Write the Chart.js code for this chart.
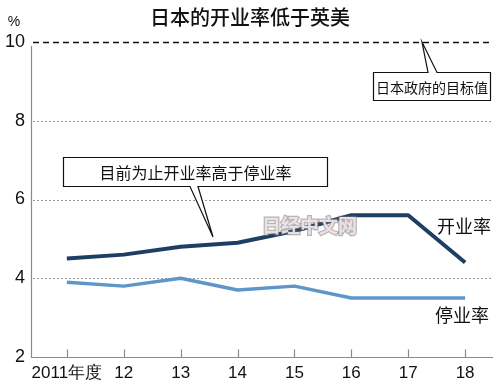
<!DOCTYPE html>
<html><head><meta charset="utf-8">
<script src="https://cdn.jsdelivr.net/npm/chart.js@4/dist/chart.umd.min.js"></script>
<style>html,body{margin:0;padding:0;background:#fff}#wrap{width:500px;height:387px}</style>
</head><body><div id="wrap"><canvas id="c" width="500" height="387"></canvas></div>
<script>
const years = [2011, 2012, 2013, 2014, 2015, 2016, 2017, 2018];
const xLabels = ['2011年度', '12', '13', '14', '15', '16', '17', '18'];
const startRate = [4.5, 4.6, 4.8, 4.9, 5.2, 5.6, 5.6, 4.4];
const closeRate = [3.9, 3.8, 4.0, 3.7, 3.8, 3.5, 3.5, 3.5];
const yTicks = [2, 4, 6, 8, 10];
const targetValue = 10;
const title = '日本的开业率低于英美';
const seriesNames = ['开业率', '停业率'];
const targetNote = '日本政府的目标值';
const trendNote = '目前为止开业率高于停业率';

const CJK = '"Noto Sans CJK SC", "Noto Sans CJK JP", sans-serif';
const NUM = '"Liberation Sans", Arial, sans-serif';
const NARROW = '"Liberation Sans Narrow", "Liberation Sans", Arial, sans-serif';

const overlay = {
  id: 'overlay',
  beforeDatasetsDraw(chart) {
    const {ctx, chartArea: a, scales: {x, y}} = chart;
    ctx.save();
    yTicks.forEach(v => {
      if (v === yTicks[0]) return;
      const py = Math.round(y.getPixelForValue(v)) + 0.5;
      ctx.beginPath();
      if (v === targetValue) { ctx.setLineDash([6, 4]); ctx.strokeStyle = '#111'; ctx.lineWidth = 1.5; }
      else { ctx.setLineDash([2, 2]); ctx.strokeStyle = '#9a9a9a'; ctx.lineWidth = 1; }
      ctx.moveTo(a.left + 2, py); ctx.lineTo(a.right, py); ctx.stroke();
    });
    ctx.setLineDash([]);
    ctx.strokeStyle = '#8a8a8a'; ctx.lineWidth = 1.2;
    const bx = Math.round(a.left) + 0.5, by = Math.round(a.bottom) + 0.5;
    ctx.beginPath();
    ctx.moveTo(bx, y.getPixelForValue(targetValue) + 4); ctx.lineTo(bx, by); ctx.lineTo(a.right, by);
    ctx.stroke();
    years.forEach(v => {
      const px = Math.round(x.getPixelForValue(v)) + 0.5;
      ctx.beginPath(); ctx.moveTo(px, by); ctx.lineTo(px, by - 8); ctx.stroke();
    });
    ctx.restore();
  },
  afterDatasetsDraw(chart) {
    const {ctx, scales: {y}} = chart;
    ctx.save();
    ctx.fillStyle = '#111';
    ctx.textBaseline = 'middle';
    ctx.textAlign = 'center';
    ctx.font = '500 20px ' + CJK;
    ctx.fillText(title, 250, 17);
    ctx.font = '14px ' + NUM;
    ctx.fillText('%', 14, 22);

    ctx.font = 'bold 19px ' + CJK;
    ctx.textAlign = 'left';
    ctx.lineWidth = 2.5;
    ctx.strokeStyle = 'rgba(120,120,120,0.55)';
    ctx.strokeText('日经中文网', 262, 226);
    ctx.fillStyle = 'rgba(240,228,232,0.95)';
    ctx.fillText('日经中文网', 262, 226);

    ctx.fillStyle = '#111';
    ctx.font = '18px ' + CJK;
    ctx.textAlign = 'left';
    ctx.fillText(seriesNames[0], 437, 226);
    ctx.fillText(seriesNames[1], 435, 315);

    function callout(box, gap, tip, text, font) {
      ctx.beginPath();
      ctx.fillStyle = '#fff';
      ctx.strokeStyle = '#111';
      ctx.lineWidth = 1.2;
      const [l, t, r, b] = box;
      if (tip[1] < t) {
        ctx.moveTo(l, t); ctx.lineTo(gap[0], t); ctx.lineTo(tip[0], tip[1]); ctx.lineTo(gap[1], t);
        ctx.lineTo(r, t); ctx.lineTo(r, b); ctx.lineTo(l, b); ctx.closePath();
      } else {
        ctx.moveTo(l, t); ctx.lineTo(r, t); ctx.lineTo(r, b); ctx.lineTo(gap[1], b);
        ctx.lineTo(tip[0], tip[1]); ctx.lineTo(gap[0], b); ctx.lineTo(l, b); ctx.closePath();
      }
      ctx.fill(); ctx.stroke();
      ctx.fillStyle = '#111';
      ctx.font = font;
      ctx.textAlign = 'center';
      ctx.fillText(text, (l + r) / 2, (t + b) / 2 + 1);
    }
    const tipY = y.getPixelForValue(targetValue);
    callout([373.5, 72.5, 490.5, 100.5], [428, 437], [422, tipY], targetNote, '14px ' + CJK);
    callout([63.5, 157.5, 327.5, 186.5], [190, 198], [213, 237], trendNote, '16px ' + CJK);
    ctx.restore();
  }
};

new Chart(document.getElementById('c'), {
  type: 'line',
  data: {
    datasets: [
      { label: seriesNames[0], data: years.map((v, i) => ({x: v, y: startRate[i]})),
        borderColor: '#1f3e64', borderWidth: 4, pointRadius: 0, tension: 0, borderJoinStyle: 'round' },
      { label: seriesNames[1], data: years.map((v, i) => ({x: v, y: closeRate[i]})),
        borderColor: '#5e96ca', borderWidth: 3.5, pointRadius: 0, tension: 0, borderJoinStyle: 'round' }
    ]
  },
  options: {
    responsive: false, animation: false,
    layout: { padding: { top: 42, right: 7, left: 0, bottom: 0 } },
    plugins: { legend: { display: false }, tooltip: { enabled: false }, title: { display: false } },
    scales: {
      x: {
        type: 'linear', min: 2010.37, max: 2018.49,
        grid: { display: false, drawTicks: false, tickLength: 0 }, border: { display: false },
        afterBuildTicks: s => { s.ticks = years.map(v => ({value: v})); },
        afterFit: s => { s.height = 30; },
        ticks: { autoSkip: false, maxRotation: 0, padding: 6, color: '#111',
          font: { family: NARROW, size: 17 },
          callback: v => xLabels[years.indexOf(v)] }
      },
      y: {
        min: 2, max: 10,
        grid: { display: false, drawTicks: false, tickLength: 0 }, border: { display: false },
        afterBuildTicks: s => { s.ticks = yTicks.map(v => ({value: v})); },
        afterFit: s => { s.width = 31; },
        ticks: { padding: 6, color: '#111', font: { family: NUM, size: 18 } }
      }
    }
  },
  plugins: [overlay]
});
</script></body></html>
